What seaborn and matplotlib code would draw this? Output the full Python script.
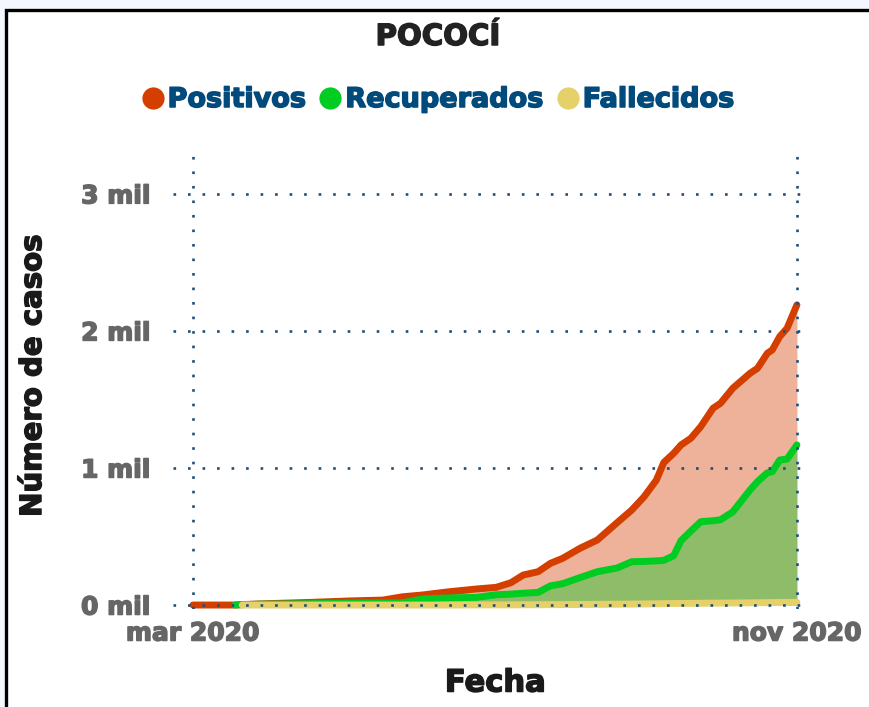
import pandas as pd
import matplotlib
matplotlib.use("Agg")
import matplotlib.pyplot as plt
import matplotlib.patheffects as pe
from matplotlib.lines import Line2D
from matplotlib.patches import Rectangle
import seaborn as sns

# Datos (casos acumulados, Pococí)
fechas = ["2020-03-01", "2020-03-16", "2020-03-18", "2020-03-21", "2020-03-28",
          "2020-04-19", "2020-05-04", "2020-05-17", "2020-05-25", "2020-06-02",
          "2020-06-13", "2020-06-24", "2020-07-02", "2020-07-08", "2020-07-13",
          "2020-07-19", "2020-07-24", "2020-07-29", "2020-08-05", "2020-08-12",
          "2020-08-20", "2020-08-26", "2020-08-31", "2020-09-05", "2020-09-08",
          "2020-09-12", "2020-09-15", "2020-09-19", "2020-09-23", "2020-09-28",
          "2020-10-01", "2020-10-06", "2020-10-13", "2020-10-16", "2020-10-20",
          "2020-10-22", "2020-10-25", "2020-10-28", "2020-11-01"]
positivos = [0, 0, 0, 3, 8, 20, 30, 36, 60, 73, 97, 117, 129, 163, 219, 243, 304, 341,
             414, 474, 600, 693, 790, 912, 1040, 1107, 1168, 1217, 1302, 1436, 1472,
             1582, 1691, 1727, 1837, 1861, 1958, 2019, 2190]
recuperados = [None, None, 0, 3, 6, 10, 14, 15, 16, 44, 52, 56, 75, 80, 86, 92, 140,
               156, 200, 243, 270, 316, 318, 322, 326, 360, 470, 540, 608, 615, 622,
               680, 840, 900, 965, 973, 1058, 1065, 1168]
fallecidos = [None, None, None, 0, 0, 0, 0, 0, 0, 0, 0, 1, 1, 1, 2, 2, 3, 3, 4, 5, 6,
              7, 8, 9, 10, 11, 12, 12, 13, 14, 14, 15, 16, 17, 17, 18, 19, 19, 20]

series = ["Positivos", "Recuperados", "Fallecidos"]
colores = {"Positivos": "#d43f00", "Recuperados": "#00cc22", "Fallecidos": "#e6d068"}
ticks_x = ["2020-03-01", "2020-11-01"]
etiquetas_x = ["mar 2020", "nov 2020"]
ticks_y = [0, 1000, 2000, 3000]
etiquetas_y = ["0 mil", "1 mil", "2 mil", "3 mil"]

df = pd.DataFrame({"fecha": pd.to_datetime(fechas), "Positivos": positivos,
                   "Recuperados": recuperados, "Fallecidos": fallecidos})
df_long = pd.melt(df, id_vars="fecha", value_vars=series,
                  var_name="serie", value_name="casos").dropna()
df_long["casos"] = df_long["casos"].astype(float)

sns.set_theme(style="white")
plt.rcParams["font.family"] = ["DejaVu Sans"]


def grueso(color):
    # engrosar un poco el texto para acercarse a la fuente original
    return [pe.withStroke(linewidth=1.1, foreground=color)]


fig = plt.figure(figsize=(8.7, 7.07), dpi=100)
fig.patch.set_facecolor("#f4f8fe")
fig.patches.append(Rectangle((6.5 / 870, -0.05), 1.1, 1 - 10 / 707 + 0.05,
                             transform=fig.transFigure, facecolor="white",
                             edgecolor="black", linewidth=2.4, zorder=-1))

ax = fig.add_axes([173 / 870, (707 - 609) / 707, (808 - 173) / 870, (609 - 150) / 707])
ax.set_facecolor("none")

# rellenos
for s in series:
    sub = df_long[df_long["serie"] == s]
    ax.fill_between(sub["fecha"], 0, sub["casos"], color=colores[s], alpha=0.4,
                    linewidth=0, zorder=1)

sns.lineplot(data=df_long, x="fecha", y="casos", hue="serie", hue_order=series,
             palette=colores, linewidth=5, legend=False, ax=ax,
             solid_capstyle="round", zorder=2)

ax.set_xlim(pd.Timestamp("2020-03-01") - pd.Timedelta(days=8.1),
            pd.Timestamp("2020-11-01") + pd.Timedelta(days=4.5))
ax.set_ylim(-29, 3320)
ax.set_xticks(pd.to_datetime(ticks_x))
ax.set_xticklabels(etiquetas_x)
ax.set_yticks(ticks_y)
ax.set_yticklabels(etiquetas_y)
ax.tick_params(axis="both", length=0, labelsize=18, labelcolor="#666666")
ax.tick_params(axis="y", pad=16)
ax.tick_params(axis="x", pad=9)
for lab in ax.get_xticklabels() + ax.get_yticklabels():
    lab.set_fontweight("bold")
    lab.set_path_effects(grueso("#666666"))

ax.set_axisbelow(False)
ax.grid(True, color="#1f4e79", linestyle=(0, (1, 4.5)), linewidth=1.9)
for sp in ax.spines.values():
    sp.set_visible(False)
ax.set_xlabel("")
ax.set_ylabel("")

fig.text(33 / 870, 1 - 376 / 707, "Número de casos", rotation=90, ha="center",
         va="center", fontsize=21, fontweight="bold", color="#1a1a1a",
         path_effects=grueso("#1a1a1a"))
fig.text(495 / 870, 1 - 683 / 707, "Fecha", ha="center", va="center",
         fontsize=22, fontweight="bold", color="#1a1a1a",
         path_effects=grueso("#1a1a1a"))
fig.text(438 / 870, 1 - 37 / 707, "POCOCÍ", ha="center", va="center",
         fontsize=21, fontweight="bold", color="#222222",
         path_effects=grueso("#222222"))

handles = [Line2D([], [], marker="o", linestyle="", markersize=16,
                  markerfacecolor=colores[s], markeredgewidth=0) for s in series]
leg = fig.legend(handles, series, loc="center", bbox_to_anchor=(438 / 870, 1 - 100 / 707),
                 ncol=3, frameon=False, handlelength=0.8, handletextpad=0.15,
                 columnspacing=0.5, prop={"size": 19.5, "weight": "bold"},
                 labelcolor="#004a7c")
for t in leg.get_texts():
    t.set_path_effects(grueso("#004a7c"))

fig.savefig("out.png", dpi=100, facecolor=fig.get_facecolor())
plt.close()
